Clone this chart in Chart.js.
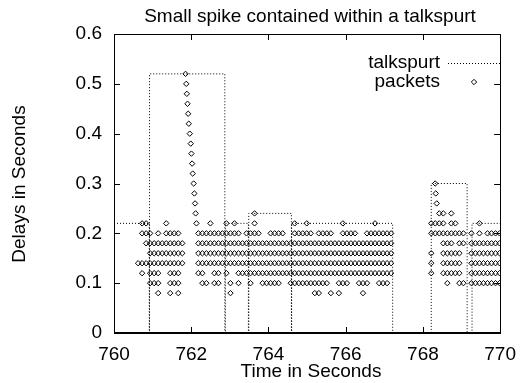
<!DOCTYPE html>
<html><head><meta charset="utf-8">
<script src="https://cdn.jsdelivr.net/npm/chart.js@4/dist/chart.umd.min.js"></script>
<style>html,body{margin:0;padding:0;background:#fff}#wrap{width:526px;height:383px;position:relative}</style>
</head><body><div id="wrap"><canvas id="c" width="526" height="383"></canvas></div>
<script>
const chartTitle = "Small spike contained within a talkspurt";
const xTitle = "Time in Seconds";
const yTitle = "Delays in Seconds";
const xTicks = [760, 762, 764, 766, 768, 770];
const yTicks = [0, 0.1, 0.2, 0.3, 0.4, 0.5, 0.6];

// talkspurt step outline (time, delay)
const talkT = [760, 760.914, 760.914, 760.92, 760.92, 762.87, 762.87, 762.885, 762.885, 763.48, 763.48, 763.49, 763.49, 764.594, 764.594, 764.60, 764.60, 767.216, 767.216, 768.216, 768.216, 769.145, 769.145, 769.272, 769.272, 770];
const talkY = [0.22, 0.22, 0, 0, 0.52, 0.52, 0, 0, 0.22, 0.22, 0, 0, 0.24, 0.24, 0, 0, 0.22, 0.22, 0, 0, 0.30, 0.30, 0, 0, 0.22, 0.22];

// individually read spike packets
const spikeT = [761.853, 761.871, 761.886, 761.904, 761.921, 761.937, 761.962, 761.988, 762.005, 762.023, 762.038, 762.063, 762.081, 762.099, 762.114, 762.135, 768.317, 768.332, 768.358];
const spikeY = [0.52, 0.50, 0.48, 0.46, 0.44, 0.42, 0.40, 0.38, 0.36, 0.34, 0.32, 0.30, 0.28, 0.26, 0.24, 0.22, 0.30, 0.28, 0.26];

// packet rows: delay level and the runs of marker columns seen at that level
const colStart = 760, colStep = 0.104;
const rowLevels = [0.24, 0.22, 0.20, 0.18, 0.16, 0.14, 0.12, 0.10, 0.08];
const rowRuns = [
  [[35,35],[81,82],[84,84]],
  [[7,8],[13,13],[24,24],[28,28],[30,30],[35,35],[45,45],[48,48],[57,57],[65,65],[79,82],[84,85],[91,91]],
  [[7,9],[11,11],[13,16],[21,31],[33,36],[39,42],[45,49],[51,54],[57,60],[63,69],[79,87],[89,89],[91,91],[93,96]],
  [[8,17],[21,69],[82,84],[86,87],[89,96]],
  [[9,17],[21,69],[79,79],[82,86],[89,96]],
  [[6,17],[21,69],[79,79],[82,86],[89,96]],
  [[7,7],[9,11],[14,16],[21,22],[25,26],[28,28],[31,69],[79,79],[82,86],[89,96]],
  [[9,11],[14,16],[22,23],[25,26],[29,29],[31,31],[34,34],[37,41],[44,53],[56,58],[61,63],[66,68],[83,83],[86,87],[89,96]],
  [[11,11],[14,14],[16,16],[29,29],[50,51],[54,54],[56,56],[62,62]]
];

const FONT = "'Liberation Sans', Arial, Helvetica, sans-serif";
const talkData = talkT.map((t, i) => ({x: t, y: talkY[i]}));
const packetData = spikeT.map((t, i) => ({x: t, y: spikeY[i]}));
rowLevels.forEach((lv, r) => {
  rowRuns[r].forEach(([a, b]) => {
    for (let c = a; c <= b; c++) packetData.push({x: colStart + c * colStep, y: lv});
  });
});

const PR = 2.7;
const decor = {
  id: 'decor',
  afterDraw(chart) {
    const ctx = chart.ctx, a = chart.chartArea;
    const xs = chart.scales.x, ys = chart.scales.y;
    ctx.save();
    ctx.strokeStyle = '#000';
    ctx.lineWidth = 1;
    ctx.setLineDash([]);
    ctx.strokeRect(Math.round(a.left) + 0.5, Math.round(a.top) + 0.5, Math.round(a.right - a.left), Math.round(a.bottom - a.top));
    // bottom axis covers the zero-level of the talkspurt outline
    ctx.lineWidth = 2;
    ctx.beginPath();
    ctx.moveTo(a.left, Math.round(a.bottom)); ctx.lineTo(a.right, Math.round(a.bottom));
    ctx.stroke();
    ctx.lineWidth = 1;
    const tl = 6;
    ctx.beginPath();
    xTicks.forEach(v => {
      const px = Math.round(xs.getPixelForValue(v)) + 0.5;
      ctx.moveTo(px, a.bottom); ctx.lineTo(px, a.bottom - tl);
      ctx.moveTo(px, a.top); ctx.lineTo(px, a.top + tl);
    });
    yTicks.forEach(v => {
      const py = Math.round(ys.getPixelForValue(v)) + 0.5;
      ctx.moveTo(a.left, py); ctx.lineTo(a.left + tl, py);
      ctx.moveTo(a.right, py); ctx.lineTo(a.right - tl, py);
    });
    ctx.stroke();

    ctx.fillStyle = '#000';
    ctx.font = '19px ' + FONT;
    ctx.textAlign = 'center';
    ctx.textBaseline = 'middle';
    ctx.fillText(chartTitle, 310, 17);
    ctx.fillText(xTitle, 311, 372);
    ctx.save();
    ctx.translate(20, 184);
    ctx.rotate(-Math.PI / 2);
    ctx.fillText(yTitle, 0, 0);
    ctx.restore();

    // legend
    ctx.textAlign = 'right';
    ctx.fillText('talkspurt', 440, 63);
    ctx.fillText('packets', 440, 82);
    ctx.beginPath();
    ctx.setLineDash([1, 2]);
    ctx.moveTo(448, 63.5); ctx.lineTo(502, 63.5);
    ctx.stroke();
    ctx.setLineDash([]);
    ctx.fillStyle = 'rgba(255,255,255,0)';
    Chart.helpers.drawPoint(ctx, {pointStyle: 'rectRot', radius: PR, rotation: 0, borderWidth: 1}, 474, 82);
    ctx.restore();
  }
};

new Chart(document.getElementById('c'), {
  type: 'scatter',
  data: {
    datasets: [
      {label: 'talkspurt', data: talkData, showLine: true, pointRadius: 0, borderColor: '#000', borderWidth: 1, borderDash: [1, 2], fill: false, tension: 0, order: 2},
      {label: 'packets', data: packetData, pointStyle: 'rectRot', pointRadius: PR, pointHoverRadius: PR, borderColor: '#000', borderWidth: 1, backgroundColor: 'rgba(255,255,255,0)', order: 1}
    ]
  },
  options: {
    responsive: false,
    animation: false,
    devicePixelRatio: 1,
    layout: {padding: {top: 34, right: 18, left: 0, bottom: 0}},
    plugins: {legend: {display: false}, title: {display: false}, tooltip: {enabled: false}},
    scales: {
      x: {
        type: 'linear', min: 760, max: 770,
        afterBuildTicks: s => { s.ticks = xTicks.map(v => ({value: v})); },
        afterFit: s => { s.height = 50; },
        grid: {display: false, drawTicks: false},
        border: {display: false},
        ticks: {font: {size: 19, family: FONT}, color: '#000', padding: 10, maxRotation: 0, autoSkip: false, callback: v => String(v)}
      },
      y: {
        type: 'linear', min: 0, max: 0.6,
        afterBuildTicks: s => { s.ticks = yTicks.map(v => ({value: v})); },
        afterFit: s => { s.width = 114; },
        grid: {display: false, drawTicks: false},
        border: {display: false},
        ticks: {font: {size: 19, family: FONT}, color: '#000', padding: 12, autoSkip: false, callback: v => String(+(+v).toFixed(1))}
      }
    }
  },
  plugins: [decor]
});
</script></body></html>
